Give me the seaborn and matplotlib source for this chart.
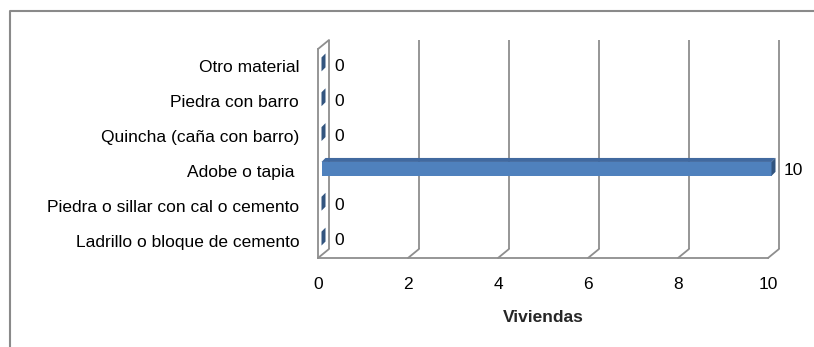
import matplotlib
matplotlib.use("Agg")
import matplotlib.pyplot as plt
import numpy as np
import pandas as pd
import seaborn as sns
from matplotlib.transforms import ScaledTranslation, IdentityTransform
from matplotlib.patches import Polygon
from matplotlib.lines import Line2D

# Material predominante en las paredes de las viviendas
materials = [
    "Otro material",
    "Piedra con barro",
    "Quincha (caña con barro)",
    "Adobe o tapia ",
    "Piedra o sillar con cal o cemento",
    "Ladrillo o bloque de cemento",
]
viviendas = [0, 0, 0, 10, 0, 0]
x_ticks = [0, 2, 4, 6, 8, 10]
x_label = "Viviendas"

BAR_BLUE = "#4F81BD"
BAR_TOP = "#41699F"
BAR_END = "#33557F"
GRID = "#8E8E8E"
FRAME = "#8A8A8A"
FONT_SIZE = 12.5

sns.set_style("white")
plt.rcParams["font.family"] = ["Liberation Sans", "DejaVu Sans"]

DPI = 100
W, H = 814, 347
fig = plt.figure(figsize=(W / DPI, H / DPI), dpi=DPI)
ax = fig.add_axes([318 / W, 1 - 258 / H, 450 / W, 209 / H])

df = pd.DataFrame({"Material": materials, "Viviendas": viviendas})
sns.barplot(data=df, x="Viviendas", y="Material", orient="h", color=BAR_BLUE,
            saturation=1, width=0.40, edgecolor="none", ax=ax, zorder=3)

ax.set_xlim(0, 10)
ax.set_ylim(len(materials) - 0.5, -0.5)
ax.set_xticks(x_ticks)
ax.set_xticklabels([str(t) for t in x_ticks])
ax.set_ylabel("")
ax.set_xlabel(x_label, fontsize=FONT_SIZE, fontweight="bold", labelpad=13)
ax.tick_params(axis="y", length=0, pad=13.5, labelsize=FONT_SIZE, colors="black")
ax.tick_params(axis="x", length=3, width=1.2, pad=10.5, labelsize=FONT_SIZE,
               direction="out", colors=GRID, labelcolor="black")
ax.grid(False)
for side in ("top", "right"):
    ax.spines[side].set_visible(False)
for side in ("left", "bottom"):
    ax.spines[side].set_color(GRID)
    ax.spines[side].set_linewidth(1.3)
ax.set_facecolor("none")

# Depth of the 3-D box (back wall offset) in pixels
PX = 1 / DPI
DX, DY = 11, 9
back = ax.transData + ScaledTranslation(DX * PX, DY * PX, fig.dpi_scale_trans)
ymax, ymin = ax.get_ylim()
ax.vlines(x_ticks, ymax, ymin, transform=back, color=GRID, lw=1.3,
          clip_on=False, zorder=1)

# Floor diagonals from each front tick to the back wall, plus side-wall top
def depth_line(x, y):
    px, py = ax.transData.transform((x, y))
    fig.add_artist(Line2D([px, px + DX], [py, py + DY], color=GRID, lw=1.3,
                          transform=IdentityTransform(), zorder=1))

for t in x_ticks:
    depth_line(t, ymax)
depth_line(0, ymin)

# Bars: shifted into the box depth, with top face and end cap for the 3-D look
bar_tr = ax.transData + ScaledTranslation(3.5 * PX, 2 * PX, fig.dpi_scale_trans)
CX, CY = 4, 4
for patch in ax.patches:
    patch.set_transform(bar_tr)
    patch.set_clip_on(False)
    x0 = patch.get_x()
    x1 = x0 + patch.get_width()
    y0 = patch.get_y()
    y1 = y0 + patch.get_height()
    (ax0, ay_a), (ax1, ay_b) = bar_tr.transform([(x0, y0), (x1, y1)])
    top = max(ay_a, ay_b)
    bot = min(ay_a, ay_b)
    if x1 > x0:
        fig.add_artist(Polygon(
            [(ax0, top), (ax0 + CX, top + CY), (ax1 + CX, top + CY), (ax1, top)],
            closed=True, facecolor=BAR_TOP, edgecolor="none",
            transform=IdentityTransform(), zorder=4))
    fig.add_artist(Polygon(
        [(ax1, bot), (ax1 + CX, bot + CY), (ax1 + CX, top + CY), (ax1, top)],
        closed=True, facecolor=BAR_END, edgecolor="none",
        transform=IdentityTransform(), zorder=4))

# Value labels
for i, v in enumerate(viviendas):
    ax.annotate(f"{v}", xy=(v, i), xytext=(11.5, 0), textcoords="offset points",
                ha="left", va="center", fontsize=FONT_SIZE, color="black",
                annotation_clip=False)

# Chart frame (left and top edges)
fig.add_artist(Line2D([10, 10, W], [0, H - 11, H - 11], color=FRAME, lw=1.5,
                      transform=IdentityTransform()))

fig.savefig("out.png", dpi=DPI)
